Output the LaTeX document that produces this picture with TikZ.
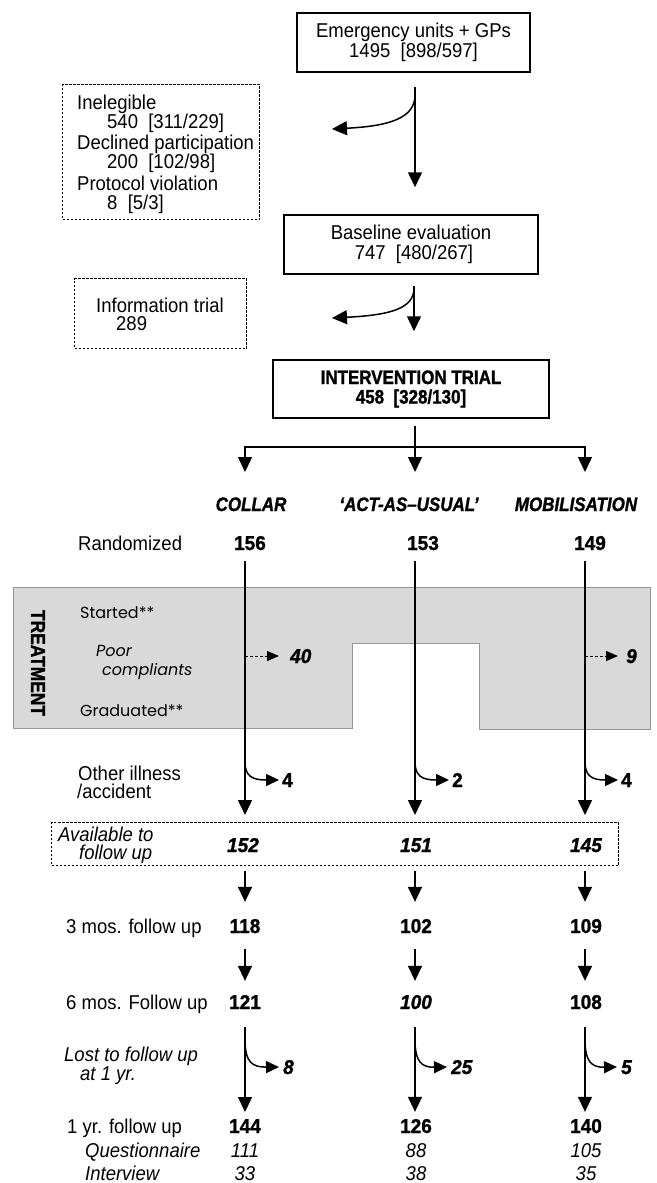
\documentclass[tikz,border=0pt]{standalone}
\usepackage{fontspec}
\setmainfont{Liberation Sans}[FakeStretch=0.925]
\newfontfamily\heavyf{Liberation Sans}[FakeBold=1.3, FakeStretch=0.95]
\newfontfamily\heavyc{Liberation Sans}[FakeBold=1.3, FakeStretch=0.87]
\newfontfamily\gothic{Poppins}
\usetikzlibrary{arrows.meta,calc}
\definecolor{treatfill}{RGB}{217,217,217}
\definecolor{treatline}{RGB}{150,150,150}
\begin{document}
\begin{tikzpicture}[x=1pt,y=-1pt,
  reg/.style={font=\fontsize{20}{20}\selectfont, inner sep=0pt, anchor=base west},
  regi/.style={font=\fontsize{20}{20}\selectfont\itshape, inner sep=0pt, anchor=base west},
  num/.style={font=\heavyf\fontsize{20}{20}\selectfont\bfseries, inner sep=0pt, anchor=base},
  numi/.style={font=\heavyf\fontsize{20}{20}\selectfont\bfseries\itshape, inner sep=0pt, anchor=base},
  numw/.style={num, anchor=base west},
  numiw/.style={numi, anchor=base west},
  sub/.style={font=\fontsize{20}{20}\selectfont\itshape, inner sep=0pt, anchor=base},
  hdr/.style={font=\heavyc\fontsize{19.5}{20}\selectfont\bfseries\itshape, inner sep=0pt, anchor=base},
  sbox/.style={draw, line width=1.5pt, inner sep=0pt, align=center, font=\fontsize{20}{20}\selectfont},
  dbox/.style={draw, line width=1pt, dash pattern=on 2.5pt off 1.5pt, inner sep=0pt},
  ln/.style={line width=1.5pt},
  arr/.style={line width=1.5pt, -{Triangle[width=14pt,length=15pt]}},
  barr/.style={line width=1.5pt, -{Triangle[width=12pt,length=13pt]}},
  darr/.style={line width=1pt, dash pattern=on 3pt off 2pt, -{Triangle[width=10pt,length=12pt]}},
  gt/.style={font=\gothic\fontsize{16}{18}\selectfont, inner sep=0pt, anchor=base west},
  gti/.style={font=\gothic\itshape\fontsize{16}{18}\selectfont, inner sep=0pt, anchor=base west},
]
\fill[white] (0,0) rectangle (656,1183);
\useasboundingbox (0,0) rectangle (656,1183);

% column x
\coordinate (cx1) at (245,0);
\coordinate (cx2) at (415,0);
\coordinate (cx3) at (585,0);

% top part
\node[sbox, minimum width=233pt, minimum height=59pt] (top) at (413.5,42.5) {Emergency units + GPs\\1495~~[898/597]};
\node[sbox, minimum width=254pt, minimum height=59pt] (base) at (411,244.5) {Baseline evaluation\\\hspace*{6pt}747~~[480/267]};
\node[sbox, minimum width=276pt, minimum height=58pt, font=\heavyc\fontsize{19.5}{19.5}\selectfont\bfseries] (interv) at (411,389) {INTERVENTION TRIAL\\458~~[328/130]};

\node[dbox, minimum width=197pt, minimum height=135pt, anchor=north west] (excl) at (62,84) {};
\node[reg] (inel) at (77,109.6) {Inelegible};
\node[reg] (inelN) at (107,128.6) {540~~[311/229]};
\node[reg] (decl) at (77,149.6) {Declined participation};
\node[reg] (declN) at (107,168.6) {200~~[102/98]};
\node[reg] (prot) at (77,190.6) {Protocol violation};
\node[reg] (protN) at (107,209.6) {8~~[5/3]};

\node[dbox, minimum width=172pt, minimum height=70pt, anchor=north west] (info) at (74,278) {};
\node[reg] (infoT) at (96,312.6) {Information trial};
\node[reg] (infoN) at (116,330.6) {289};

% top arrows
\coordinate (t1a) at ($(top.south -| cx2)+(0,14)$);
\coordinate (t1b) at ($(base.north -| cx2)+(0,-27)$);
\draw[arr] (t1a) -- (t1b);
\coordinate (t1c) at (415,95);
\coordinate (t1d) at (332,129);
\draw[arr] (t1c) .. controls (415,118) and (390,126) .. (t1d);

\coordinate (t2a) at ($(base.south -| cx2)+(-1,11)$);
\coordinate (t2b) at ($(interv.north -| cx2)+(-1,-28)$);
\draw[arr] (t2a) -- (t2b);
\coordinate (t2c) at (414,288);
\coordinate (t2d) at (332,318);
\draw[arr] (t2c) .. controls (414,308) and (392,315) .. (t2d);

% split
\coordinate (sp0) at ($(interv.south -| cx2)+(0,7)$);
\coordinate (sp) at (415,447);
\coordinate (sp1) at (245,472);
\coordinate (sp2) at (415,472);
\coordinate (sp3) at (585,472);
\draw[arr] (sp0) -- (sp2);
\draw[arr] (sp) -| (sp1);
\draw[arr] (sp) -| (sp3);

% headers
\node[hdr] (h1) at (251,511) {COLLAR};
\node[hdr] (h2) at (409,511) {‘ACT-AS–USUAL’};
\node[hdr] (h3) at (576,511) {MOBILISATION};

% randomized
\node[reg] (randl) at (78,550) {Randomized};
\node[num] (r1) at (250,550) {156};
\node[num] (r2) at (423,550) {153};
\node[num] (r3) at (590,550) {149};

% treatment band
\fill[treatfill, draw=treatline, line width=0.8pt] (13,587) -- (650,587) -- (650,729) -- (479,729) -- (479,643) -- (352,643) -- (352,728) -- (13,728) -- cycle;
\node[rotate=-90, font=\heavyc\fontsize{20}{20}\selectfont\bfseries, inner sep=0pt] (treat) at (38,663) {TREATMENT};
\node[gt] (started) at (80,618) {Started**};
\node[gti] (poor) at (96,656) {Poor};
\node[gti] (compl) at (102,675) {compliants};
\node[gt] (grad) at (80,716) {Graduated**};

% available box
\node[dbox, minimum width=567pt, minimum height=43pt, anchor=north west] (avail) at (51,822) {};
\node[regi] (av1) at (58,841) {Available to};
\node[regi] (av2) at (79,859) {follow up};
\node[numi] (a1) at (243,852) {152};
\node[numi] (a2) at (416,852) {151};
\node[numi] (a3) at (586,852) {145};

% main column arrows
\foreach \i in {1,2,3}{
  \draw[arr] ($(cx\i |- r\i.south)+(0,11)$) -- ($(cx\i |- avail.north)+(0,-7)$);
}

% poor compliants
\coordinate (pc1) at (245,656);
\coordinate (pc3) at (585,656);
\node[numiw] (pcn1) at (290,663) {40};
\node[numiw] (pcn3) at (626,663) {9};
\draw[darr] (pc1) -- ($(pcn1.base west)+(-11,-7)$);
\draw[darr] (pc3) -- ($(pcn3.base west)+(-8,-7)$);

% other illness
\node[reg] (oth1) at (78,780) {Other illness};
\node[reg] (oth2) at (77,798) {/accident};
\node[numw] (o1) at (282,787) {4};
\node[numw] (o2) at (452,787) {2};
\node[numw] (o3) at (621,787) {4};
\foreach \i in {1,2,3}{
  \draw[barr] ($(cx\i)+(0,762)$) .. controls ($(cx\i)+(0,776)$) and ($(cx\i)+(7,780)$) .. ($(o\i.base west)+(-3,-7)$);
}

% 3 months
\node[reg] (m3) at (66,933) {3 mos. follow up};
\node[num] (t1) at (245,933) {118};
\node[num] (t2) at (416,933) {102};
\node[num] (t3) at (586,933) {109};
\foreach \i in {1,2,3}{
  \draw[arr] ($(cx\i |- avail.south)+(0,5)$) -- ($(cx\i |- t\i.north)+(0,-17)$);
}

% 6 months
\node[reg] (m6) at (66,1009) {6 mos. Follow up};
\node[num] (s1) at (245,1009) {121};
\node[numi] (s2) at (416,1009) {100};
\node[num] (s3) at (586,1009) {108};
\foreach \i in {1,2,3}{
  \draw[arr] ($(cx\i |- t\i.south)+(0,16)$) -- ($(cx\i |- s\i.north)+(0,-14)$);
}

% lost
\node[regi] (lost1) at (64,1061) {Lost to follow up};
\node[regi] (lost2) at (80,1080) {at 1 yr.};
\node[numiw] (l1) at (283,1074) {8};
\node[numiw] (l2) at (451,1074) {25};
\node[numiw] (l3) at (621,1074) {5};

% 1 year
\node[reg] (y1l) at (67,1133) {1 yr. follow up};
\node[num] (y1) at (245,1133) {144};
\node[num] (y2) at (416,1133) {126};
\node[num] (y3) at (586,1133) {140};
\foreach \i in {1,2,3}{
  \draw[arr] ($(cx\i |- s\i.south)+(0,18)$) -- ($(cx\i |- y\i.north)+(0,-7)$);
  \draw[barr] ($(cx\i |- s\i.south)+(0,30)$) .. controls ($(cx\i |- s\i.south)+(0,53)$) and ($(cx\i |- s\i.south)+(7,58)$) .. ($(l\i.base west)+(-4,-7)$);
}

\node[sub, anchor=base west] (quest) at (85,1157) {Questionnaire};
\node[sub] (q1) at (245,1157) {111};
\node[sub] (q2) at (416,1157) {88};
\node[sub] (q3) at (586,1157) {105};
\node[sub, anchor=base west] (intv) at (85,1180) {Interview};
\node[sub] (i1) at (245,1180) {33};
\node[sub] (i2) at (416,1180) {38};
\node[sub] (i3) at (586,1180) {35};
\end{tikzpicture}
\end{document}
